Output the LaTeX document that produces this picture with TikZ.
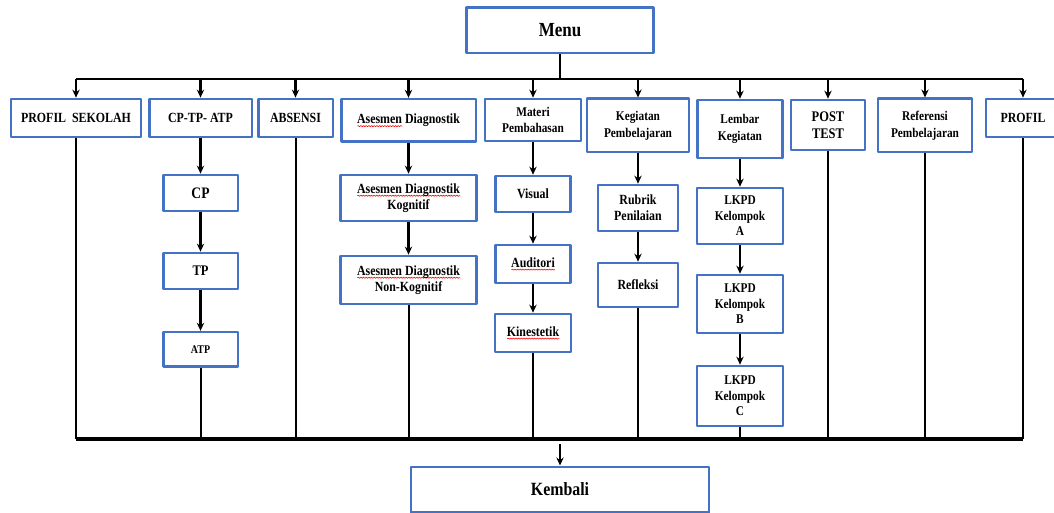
\documentclass[tikz,border=0pt]{standalone}
\usepackage{fontspec}
\setmainfont[FakeStretch=0.85]{Liberation Serif}
\usetikzlibrary{arrows.meta,decorations.pathmorphing}
\definecolor{boxblue}{RGB}{68,114,196}
\newcommand\salah[1]{\leavevmode\setbox0\hbox{#1}\rlap{\tikz[baseline=0pt,x=1pt,y=1pt]\draw[red,line width=0.45pt,decorate,decoration={snake,amplitude=0.45pt,segment length=2pt}] (0pt,-1.8pt) -- (\the\wd0,-1.8pt);}\box0\relax}
\begin{document}
\begin{tikzpicture}[line join=round, >={Stealth[length=6pt,width=5.5pt]}, x=0.75pt, y=-0.75pt,
    kotak/.style={draw=boxblue, line width=2pt, fill=white, align=center, inner sep=1pt,
      font=\fontsize{10.5}{12}\selectfont\bfseries},
    garis/.style={line width=1.9pt},
    turun/.style={line width=1.5pt}
    ]
    \useasboundingbox (0,0) rectangle (1054,513);
    %Menu dan baris menu utama
    \node[kotak, minimum width=140pt, minimum height=34pt, font=\fontsize{15}{17}\selectfont\bfseries] (menu) at (560,30.5) {Menu};
    \node[kotak, minimum width=97.5pt, minimum height=28.5pt] (psek) at (76,118) {PROFIL\ \ SEKOLAH};
    \node[kotak, minimum width=77pt, minimum height=28.5pt] (cptp) at (200.5,118) {CP-TP- ATP};
    \node[kotak, minimum width=56pt, minimum height=28.5pt] (absen) at (295.5,118) {ABSENSI};
    \node[kotak, minimum width=101pt, minimum height=32pt] (asdiag) at (408.5,120.5) {\salah{Asesmen} Diagnostik};
    \node[kotak, minimum width=72pt, minimum height=31.5pt, font=\fontsize{10}{12}\selectfont\bfseries] (materi) at (533,120) {Materi\\Pembahasan};
    \node[kotak, minimum width=76.5pt, minimum height=40pt, font=\fontsize{10}{13}\selectfont\bfseries] (kegiat) at (638,125.5) {Kegiatan\\Pembelajaran};
    \node[kotak, minimum width=64pt, minimum height=43.5pt, font=\fontsize{10}{13}\selectfont\bfseries] (lembar) at (740,129) {Lembar\\Kegiatan};
    \node[kotak, minimum width=55.5pt, minimum height=37.5pt, font=\fontsize{11}{12.5}\selectfont\bfseries] (post) at (828,125) {POST\\TEST};
    \node[kotak, minimum width=70.5pt, minimum height=40pt, font=\fontsize{10}{12.5}\selectfont\bfseries] (refer) at (925,125.5) {Referensi\\Pembelajaran};
    \node[kotak, minimum width=55.5pt, minimum height=28.5pt] (profil) at (1023,118) {PROFIL};
    %Sub menu
    \node[kotak, minimum width=56pt, minimum height=27pt, font=\fontsize{12}{14}\selectfont\bfseries] (cp) at (200.5,193) {CP};
    \node[kotak, minimum width=56pt, minimum height=27pt, font=\fontsize{11}{13}\selectfont\bfseries] (tp) at (200.5,271) {TP};
    \node[kotak, minimum width=56pt, minimum height=26pt, font=\fontsize{8.8}{10}\selectfont\bfseries] (atp) at (200.5,349.5) {ATP};
    \node[kotak, minimum width=102pt, minimum height=34.5pt] (adkog) at (408.5,198) {\salah{Asesmen Diagnostik}\\Kognitif};
    \node[kotak, minimum width=102pt, minimum height=36pt] (adnon) at (408.5,280) {\salah{Asesmen Diagnostik}\\Non-Kognitif};
    \node[kotak, minimum width=56pt, minimum height=27pt] (visual) at (533,194) {Visual};
    \node[kotak, minimum width=56pt, minimum height=28.5pt] (audit) at (533,264) {\salah{Auditori}};
    \node[kotak, minimum width=57pt, minimum height=28.5pt] (kines) at (533,333) {\salah{Kinestetik}};
    \node[kotak, minimum width=60pt, minimum height=34.5pt] (rubrik) at (638,208) {Rubrik\\Penilaian};
    \node[kotak, minimum width=60pt, minimum height=33pt] (refl) at (638,285) {Refleksi};
    \node[kotak, minimum width=64.5pt, minimum height=42pt, font=\fontsize{10}{11.6}\selectfont\bfseries] (lkpda) at (740,216) {LKPD\\Kelompok\\A};
    \node[kotak, minimum width=64.5pt, minimum height=43.5pt, font=\fontsize{10}{11.6}\selectfont\bfseries] (lkpdb) at (740,304) {LKPD\\Kelompok\\B};
    \node[kotak, minimum width=64.5pt, minimum height=45pt, font=\fontsize{10}{11.6}\selectfont\bfseries] (lkpdc) at (740,396) {LKPD\\Kelompok\\C};
    \node[kotak, minimum width=223.5pt, minimum height=34pt, font=\fontsize{14}{16}\selectfont\bfseries] (kembali) at (560,489.5) {Kembali};
    \path (558,79) coordinate (atas) (561,439) coordinate (bawah);
    %Garis dari menu
    \draw[garis] (menu.south) -- (menu.south |- atas);
    \draw[garis] (psek.north |- atas) -- (profil.north |- atas);
    \foreach \n in {psek,cptp,absen,asdiag,materi,kegiat,lembar,post,refer,profil}
    \draw[garis,->] (\n.north |- atas) -- (\n.north);
    %Panah sub menu
    \foreach \a/\b in {cptp/cp,cp/tp,tp/atp,asdiag/adkog,adkog/adnon,materi/visual,visual/audit,audit/kines,kegiat/rubrik,rubrik/refl,lembar/lkpda,lkpda/lkpdb,lkpdb/lkpdc}
    \draw[garis,->] (\a.south) -- (\b.north);
    %Garis ke Kembali
    \foreach \n in {psek,atp,absen,adnon,kines,refl,lkpdc,post,refer,profil}
    \draw[turun] (\n.south) -- (\n.south |- bawah);
    \draw[line width=2.4pt] (psek.south |- bawah) -- (profil.south |- bawah);
    \draw[turun,->] ([yshift=-4pt]kembali.north |- bawah) -- (kembali.north);
\end{tikzpicture}
\end{document}
